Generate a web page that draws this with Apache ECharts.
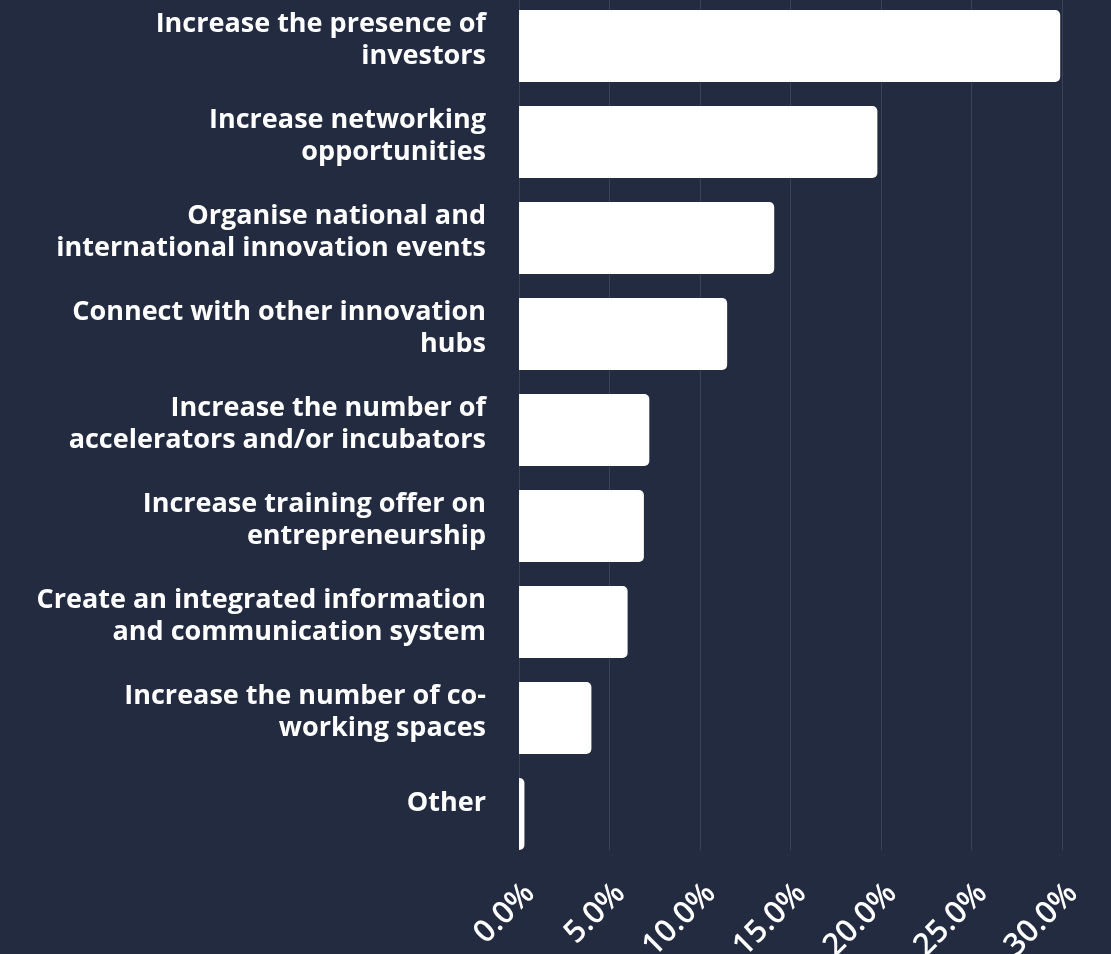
<!DOCTYPE html>
<html>
<head>
<meta charset="utf-8">
<script src="https://cdn.jsdelivr.net/npm/echarts@6/dist/echarts.min.js"></script>
<style>
  html, body { margin: 0; padding: 0; background: #232b40; }
  #chart { width: 1111px; height: 954px; }
</style>
</head>
<body>
<div id="chart"></div>
<script>
// Measures to support innovation hubs (share of respondents)
const categories = [
  'Increase the presence of\ninvestors',
  'Increase networking\nopportunities',
  'Organise national and\ninternational innovation events',
  'Connect with other innovation\nhubs',
  'Increase the number of\naccelerators and/or incubators',
  'Increase training offer on\nentrepreneurship',
  'Create an integrated information\nand communication system',
  'Increase the number of co-\nworking spaces',
  'Other'
];
const shares = [29.9, 19.8, 14.1, 11.5, 7.2, 6.9, 6.0, 4.0, 0.3];
const tickStep = 5;
const axisMax = 30;

const chart = echarts.init(document.getElementById('chart'), null, { renderer: 'canvas' });

const font = '"Open Sans", "Noto Sans", sans-serif';

// Category labels sit a little above the bar centre: a short blank
// line is appended under each label block.
function categoryLabel(value) {
  const lines = value.split('\n');
  const body = lines.map(l => '{t|' + l + '}').join('\n');
  return body + '\n' + (lines.length > 1 ? '{s2| }' : '{s1| }');
}

chart.setOption({
  backgroundColor: '#232b40',
  animation: false,
  grid: [
    // bars and labels
    { left: 519, right: 49, top: -2, bottom: 92, containLabel: false, outerBoundsMode: 'none' },
    // vertical grid lines, ending at the plot floor
    { left: 519, right: 49, top: 0, bottom: 104, containLabel: false, outerBoundsMode: 'none' }
  ],
  xAxis: [
    {
      gridIndex: 0,
      type: 'value',
      min: 0,
      max: axisMax,
      interval: tickStep,
      axisLine: { show: false },
      axisTick: { show: false },
      splitLine: { show: false },
      axisLabel: {
        rotate: 45,
        margin: 16,
        color: '#ffffff',
        fontFamily: font,
        fontWeight: 600,
        fontSize: 31,
        lineHeight: 30,
        verticalAlign: 'top',
        formatter: v => v.toFixed(1) + '%'
      }
    },
    {
      gridIndex: 1,
      type: 'value',
      min: 0,
      max: axisMax,
      interval: tickStep,
      axisLine: { show: false },
      axisTick: { show: false },
      axisLabel: { show: false },
      splitLine: { show: true, lineStyle: { color: '#3a4256', width: 1 } }
    }
  ],
  yAxis: [
    {
      gridIndex: 0,
      type: 'category',
      data: categories,
      inverse: true,
      axisLine: { show: false },
      axisTick: { show: false },
      splitLine: { show: false },
      axisLabel: {
        margin: 33,
        align: 'right',
        formatter: categoryLabel,
        rich: {
          t: {
            color: '#ffffff',
            fontFamily: font,
            fontWeight: 'bold',
            fontSize: 27,
            lineHeight: 32,
            align: 'right'
          },
          s1: { fontSize: 10, lineHeight: 21 },
          s2: { fontSize: 10, lineHeight: 12 }
        }
      }
    },
    {
      gridIndex: 1,
      type: 'category',
      data: categories,
      inverse: true,
      show: false
    }
  ],
  series: [
    {
      type: 'bar',
      xAxisIndex: 0,
      yAxisIndex: 0,
      data: shares,
      barWidth: 72,
      itemStyle: { color: '#ffffff', borderRadius: [0, 5, 5, 0] },
      z: 3
    }
  ]
});
</script>
</body>
</html>
